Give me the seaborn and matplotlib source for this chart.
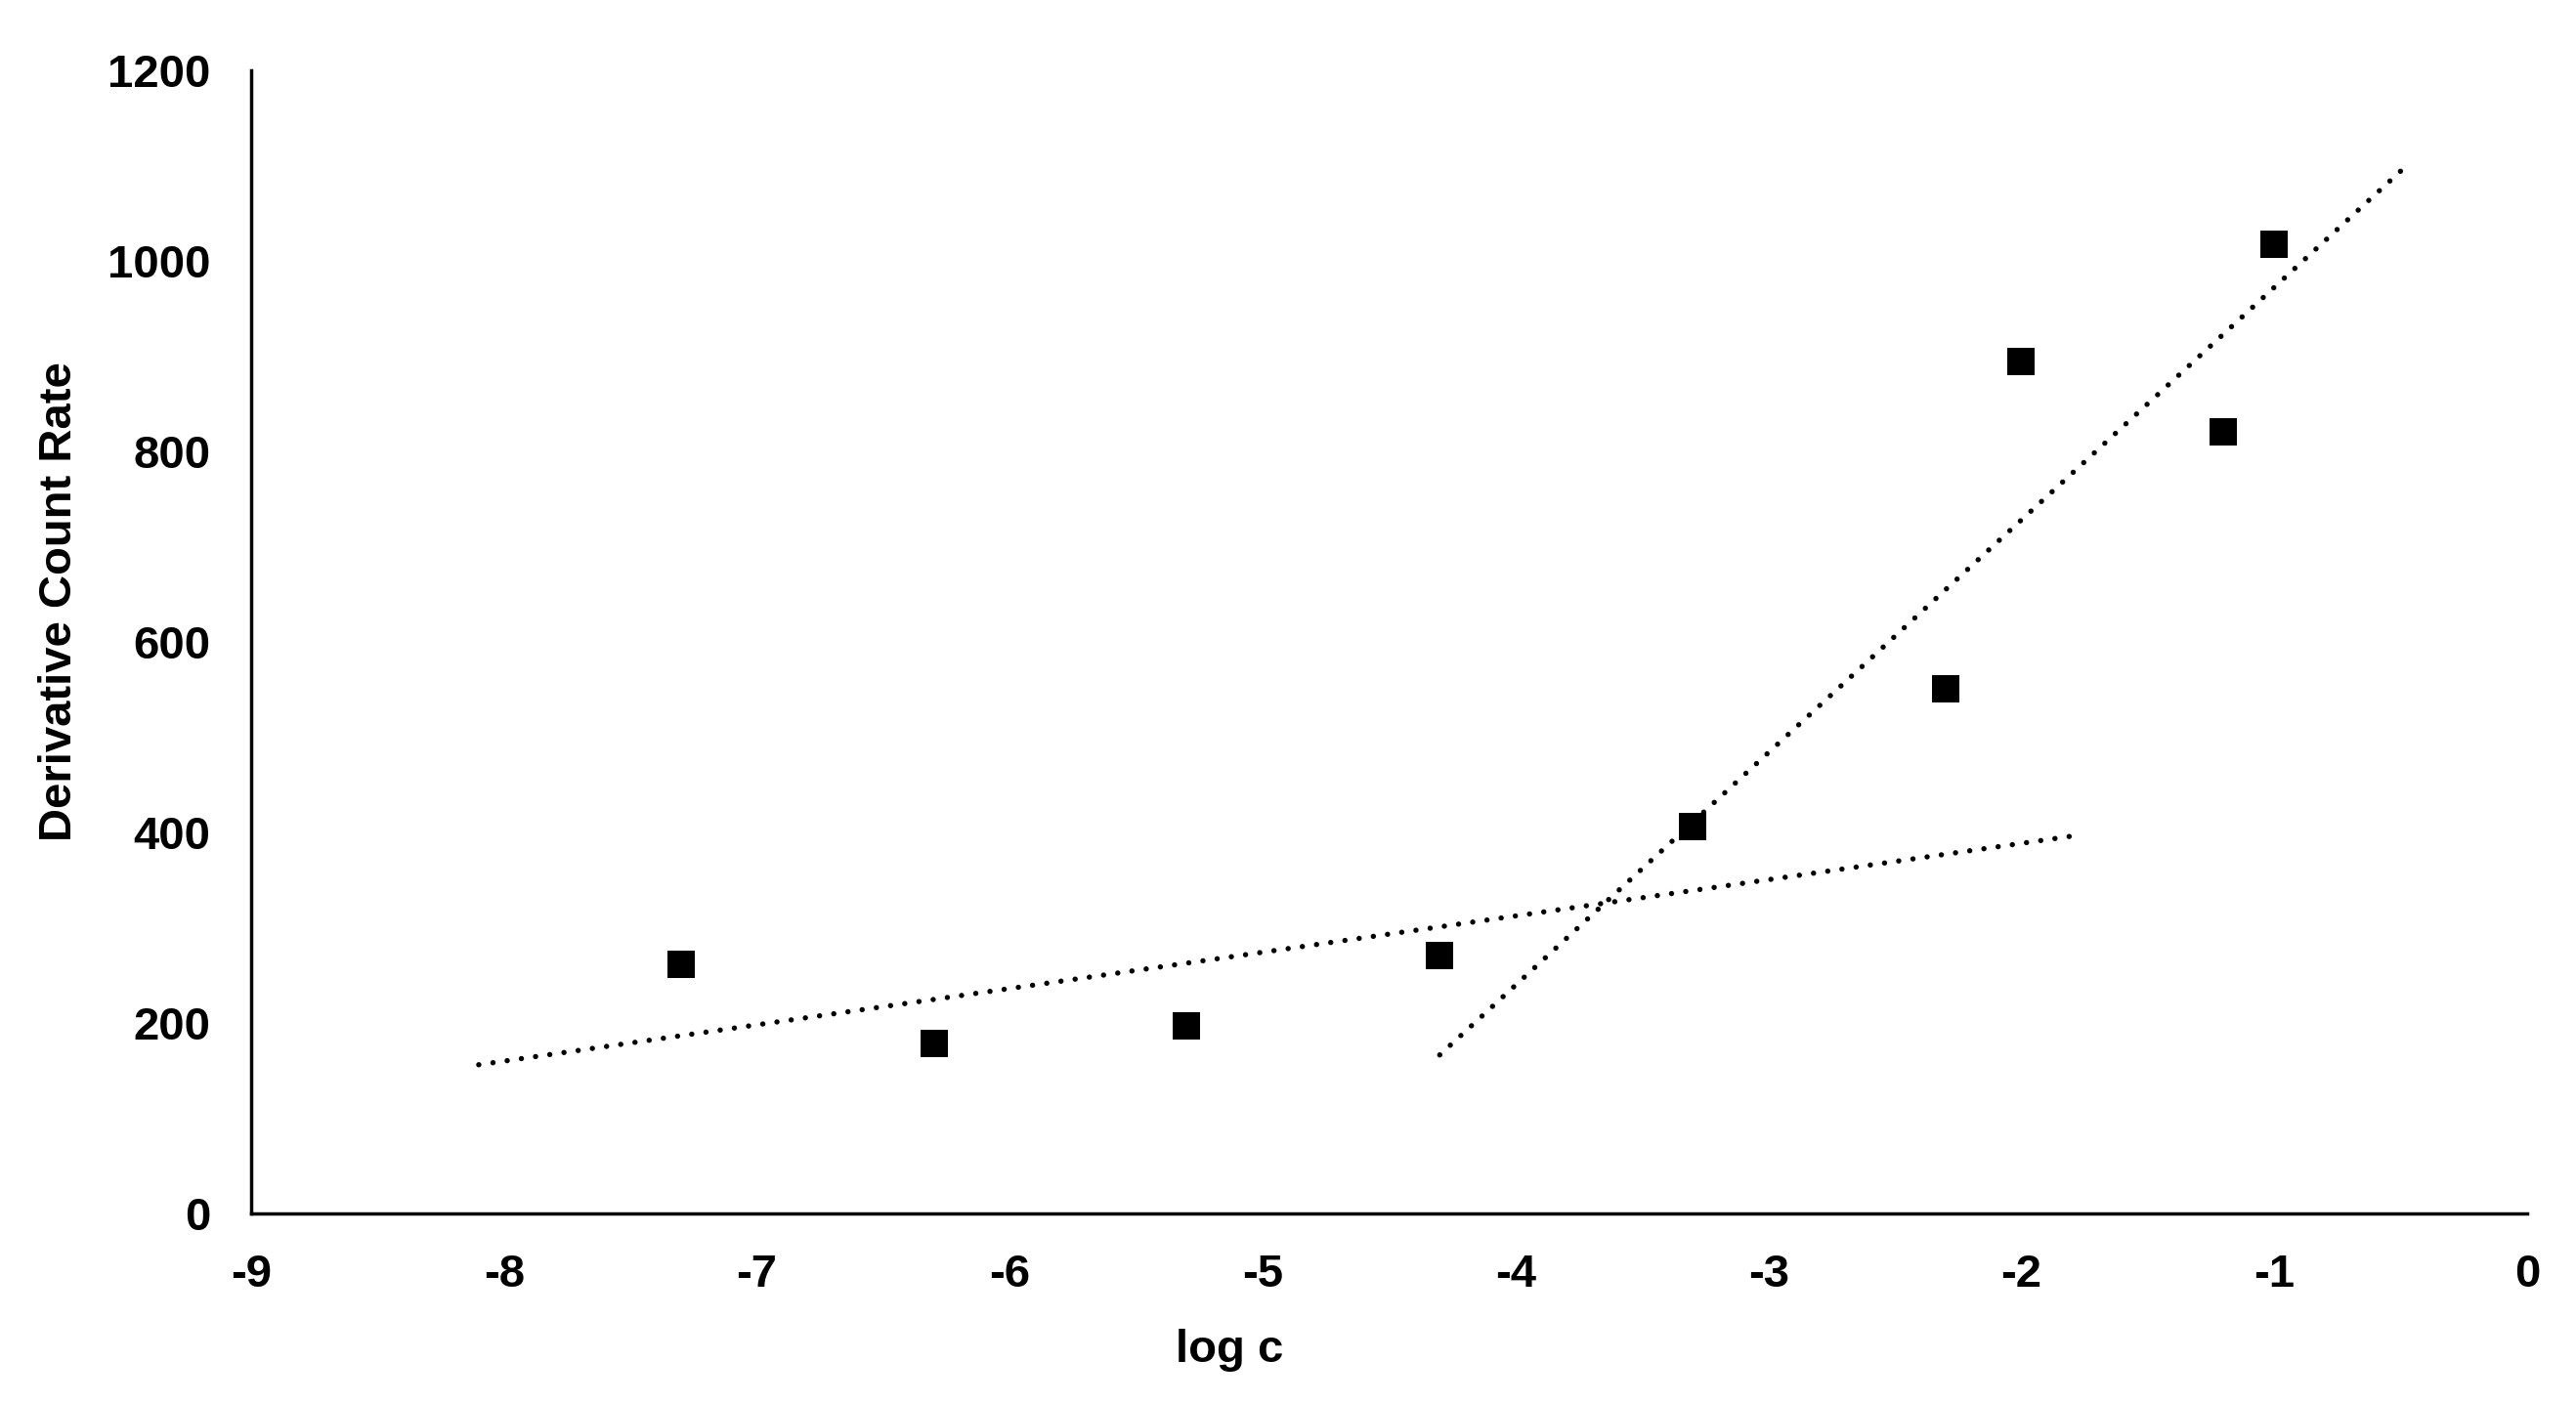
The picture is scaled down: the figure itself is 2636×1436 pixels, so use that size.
import numpy as np
import pandas as pd
import matplotlib
matplotlib.use("Agg")
import matplotlib.pyplot as plt
from matplotlib import font_manager as fm
import seaborn as sns

# ---------------- data ----------------
log_c = [-7.3, -6.3, -5.3, -4.3, -3.3, -2.3, -2.0, -1.2, -1.0]
count_rate = [262, 178, 197, 271, 406, 551, 894, 821, 1017]

# trendline 1: fitted to the first five points, drawn over this x range
trend1_idx = [0, 1, 2, 3, 4]
trend1_range = [-8.1, -1.8]
# trendline 2: fitted to the last five points, drawn over this x range
trend2_idx = [4, 5, 6, 7, 8]
trend2_range = [-4.3, -0.5]

x_ticks = [-9, -8, -7, -6, -5, -4, -3, -2, -1, 0]
y_ticks = [0, 200, 400, 600, 800, 1000, 1200]
x_label = "log c"
y_label = "Derivative Count Rate"

# ---------------- style ----------------
sns.set_theme(style="white")
plt.rcParams["font.family"] = ["Liberation Sans", "DejaVu Sans"]
plt.rcParams["font.weight"] = "bold"


def has_font(name):
    try:
        fm.findfont(fm.FontProperties(family=name), fallback_to_default=False)
        return True
    except Exception:
        return False


narrow = "Liberation Sans Narrow" if has_font("Liberation Sans Narrow") else "Liberation Sans"

df = pd.DataFrame({"log_c": log_c, "rate": count_rate})


def trend(idx, xr):
    xs = np.array([log_c[i] for i in idx])
    ys = np.array([count_rate[i] for i in idx])
    m, b = np.polyfit(xs, ys, 1)
    xx = np.array(xr, dtype=float)
    return pd.DataFrame({"log_c": xx, "rate": m * xx + b})


t1 = trend(trend1_idx, trend1_range)
t2 = trend(trend2_idx, trend2_range)

fig = plt.figure(figsize=(26.36, 14.36), dpi=100)
ax = fig.add_axes([0.0975, 0.1351, 0.88354, 0.81476])

dot_style = dict(color="black", linewidth=3.9, linestyle=(0, (0.01, 2.7)),
                 dash_capstyle="round")
sns.lineplot(data=t1, x="log_c", y="rate", ax=ax, **dot_style)
sns.lineplot(data=t2, x="log_c", y="rate", ax=ax, **dot_style)

sns.scatterplot(data=df, x="log_c", y="rate", ax=ax, marker="s", s=400,
                color="black", linewidth=0, zorder=3)

ax.set_xlim(-9, 0)
ax.set_ylim(0, 1200)
ax.set_xticks(x_ticks)
ax.set_yticks(y_ticks)
ax.set_xticklabels([str(v) for v in x_ticks])
ax.set_yticklabels([str(v) for v in y_ticks])
ax.tick_params(axis="both", length=0, labelsize=34, colors="black")
ax.tick_params(axis="x", pad=29.5)
ax.tick_params(axis="y", pad=30)
for lab in ax.get_xticklabels() + ax.get_yticklabels():
    lab.set_fontweight("bold")

sns.despine(ax=ax)
for side in ["left", "bottom"]:
    ax.spines[side].set_linewidth(2.5)
    ax.spines[side].set_color("black")

ax.set_xlabel(x_label, fontsize=34, fontweight="bold", color="black")
ax.xaxis.set_label_coords(0.430, -0.101)
ax.set_ylabel(y_label, fontsize=34, fontweight="bold", color="black",
              family=[narrow, "DejaVu Sans"], va="center", ha="center")
ax.yaxis.set_label_coords(-0.084, 0.535)
ax.grid(False)

fig.savefig("out.png", dpi=100, facecolor="white")
